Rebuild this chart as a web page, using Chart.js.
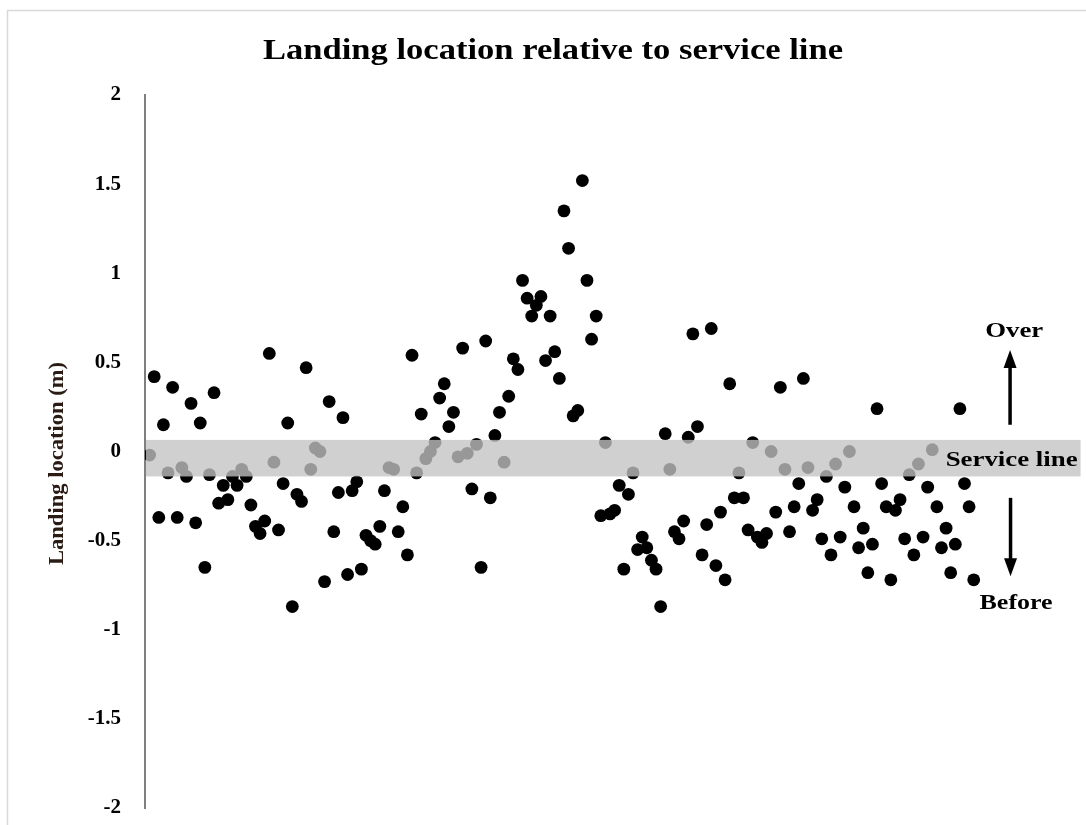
<!DOCTYPE html>
<html>
<head>
<meta charset="utf-8">
<title>Landing location relative to service line</title>
<script src="https://cdn.jsdelivr.net/npm/chart.js@4.4.1/dist/chart.umd.min.js"></script>
<style>
  html, body { margin: 0; padding: 0; background: #ffffff; }
  #wrap { width: 1086px; height: 825px; position: relative; }
</style>
</head>
<body>
<div id="wrap"><canvas id="chart" width="1086" height="825"></canvas></div>
<script>
// Landing location (m) of each serve, relative to the service line, in serve order
const landingLocation = [
  -0.02, 0.42, -0.37, 0.15, -0.12, 0.36, -0.37, -0.09, -0.14, 0.27,
  -0.40, 0.16, -0.65, -0.13, 0.33, -0.29, -0.19, -0.27, -0.14, -0.19,
  -0.10, -0.14, -0.30, -0.42, -0.46, -0.39, 0.55, -0.06, -0.44, -0.18,
  0.16, -0.87, -0.24, -0.28, 0.47, -0.10, 0.02, 0.00, -0.73, 0.28,
  -0.45, -0.23, 0.19, -0.69, -0.22, -0.17, -0.66, -0.47, -0.50, -0.52,
  -0.42, -0.22, -0.09, -0.10, -0.45, -0.31, -0.58, 0.54, -0.12, 0.21,
  -0.04, 0.00, 0.05, 0.30, 0.38, 0.14, 0.22, -0.03, 0.58, -0.01,
  -0.21, 0.04, -0.65, 0.62, -0.26, 0.09, 0.22, -0.06, 0.31, 0.52,
  0.46, 0.96, 0.86, 0.76, 0.82, 0.87, 0.51, 0.76, 0.56, 0.41,
  1.35, 1.14, 0.20, 0.23, 1.52, 0.96, 0.63, 0.76, -0.36, 0.05,
  -0.35, -0.33, -0.19, -0.66, -0.24, -0.12, -0.55, -0.48, -0.54, -0.61,
  -0.66, -0.87, 0.10, -0.10, -0.45, -0.49, -0.39, 0.08, 0.66, 0.14,
  -0.58, -0.41, 0.69, -0.64, -0.34, -0.72, 0.38, -0.26, -0.12, -0.26,
  -0.44, 0.05, -0.48, -0.51, -0.46, 0.00, -0.34, 0.36, -0.10, -0.45,
  -0.31, -0.18, 0.41, -0.09, -0.33, -0.27, -0.49, -0.14, -0.58, -0.07,
  -0.48, -0.20, 0.00, -0.31, -0.54, -0.43, -0.68, -0.52, 0.24, -0.18,
  -0.31, -0.72, -0.33, -0.27, -0.49, -0.13, -0.58, -0.07, -0.48, -0.20,
  0.01, -0.31, -0.54, -0.43, -0.68, -0.52, 0.24, -0.18, -0.31, -0.72
];

// Y axis tick values and their labels
const yTickValues = [-2, -1.5, -1, -0.5, 0, 0.5, 1, 1.5, 2];
const yTickLabels = ['-2', '-1.5', '-1', '-0.5', '0', '0.5', '1', '1.5', '2'];

// Service line zone (m)
const serviceZone = [-0.14, 0.065];

// Direction annotations: [serve position, value]
const overLabelAt = [188.8, 0.67];
const overArrow = [187.9, 0.15, 0.57];
const beforeLabelAt = [189.2, -0.855];
const beforeArrow = [188.0, -0.26, -0.70];
const serviceLabelAt = [173.9, -0.05];

const SERIF = "'Liberation Serif', 'Times New Roman', 'DejaVu Serif', serif";

const points = landingLocation.map((v, i) => ({ x: i + 1, y: v }));

// Draw bold serif text fitted to a given width
function drawFittedText(ctx, text, x, y, size, width, align, color, angle) {
  ctx.save();
  ctx.font = `bold ${size}px ${SERIF}`;
  ctx.textBaseline = 'middle';
  ctx.textAlign = 'left';
  const w = ctx.measureText(text).width;
  const sx = width / w;
  ctx.translate(x, y);
  if (angle) ctx.rotate(angle);
  ctx.scale(sx, 1);
  ctx.fillStyle = color || '#000';
  ctx.fillText(text, align === 'center' ? -w / 2 : 0, 0);
  ctx.restore();
}

function drawArrow(ctx, x, y0, y1) {
  const dir = y1 < y0 ? -1 : 1;
  ctx.save();
  ctx.strokeStyle = '#000';
  ctx.fillStyle = '#000';
  ctx.lineWidth = 3.5;
  ctx.beginPath();
  ctx.moveTo(x, y0);
  ctx.lineTo(x, y1 - dir * 14);
  ctx.stroke();
  ctx.beginPath();
  ctx.moveTo(x, y1);
  ctx.lineTo(x - 6.5, y1 - dir * 18);
  ctx.lineTo(x + 6.5, y1 - dir * 18);
  ctx.closePath();
  ctx.fill();
  ctx.restore();
}

const framePlugin = {
  id: 'frame',
  beforeDraw(chart) {
    const ctx = chart.ctx;
    ctx.save();
    ctx.fillStyle = '#ffffff';
    ctx.fillRect(0, 0, chart.width, chart.height);
    ctx.strokeStyle = '#d9d9d9';
    ctx.lineWidth = 1.5;
    ctx.strokeRect(7.5, 10.5, chart.width + 20, chart.height + 20);
    ctx.restore();
  }
};

const zonePlugin = {
  id: 'serviceZone',
  afterDatasetsDraw(chart) {
    const { ctx, chartArea, scales: { y } } = chart;
    const top = y.getPixelForValue(serviceZone[1]);
    const bottom = y.getPixelForValue(serviceZone[0]);
    ctx.save();
    ctx.fillStyle = 'rgba(195,195,195,0.78)';
    ctx.fillRect(chartArea.left + 1, top, chartArea.right - chartArea.left, bottom - top);
    ctx.restore();
  }
};

const labelsPlugin = {
  id: 'directionLabels',
  afterDraw(chart) {
    const { ctx, chartArea, scales: { x, y } } = chart;
    drawFittedText(ctx, 'Landing location relative to service line', 553, 51, 30, 580, 'center');
    drawFittedText(ctx, 'Landing location (m)', 58, (chartArea.top + chartArea.bottom) / 2 + 12, 21, 203, 'center', '#2a1c14', -Math.PI / 2);
    drawFittedText(ctx, 'Over', x.getPixelForValue(overLabelAt[0]), y.getPixelForValue(overLabelAt[1]), 21, 58, 'center');
    drawFittedText(ctx, 'Before', x.getPixelForValue(beforeLabelAt[0]), y.getPixelForValue(beforeLabelAt[1]), 21, 73, 'center');
    drawFittedText(ctx, 'Service line', x.getPixelForValue(serviceLabelAt[0]), y.getPixelForValue(serviceLabelAt[1]), 21, 132, 'left');
    drawArrow(ctx, x.getPixelForValue(overArrow[0]), y.getPixelForValue(overArrow[1]), y.getPixelForValue(overArrow[2]));
    drawArrow(ctx, x.getPixelForValue(beforeArrow[0]), y.getPixelForValue(beforeArrow[1]), y.getPixelForValue(beforeArrow[2]));
  }
};

new Chart(document.getElementById('chart'), {
  type: 'scatter',
  data: {
    datasets: [{
      label: 'Landing location',
      data: points,
      backgroundColor: '#000000',
      borderWidth: 0,
      pointRadius: 6.4,
      pointHoverRadius: 6.4
    }]
  },
  options: {
    responsive: false,
    animation: false,
    events: [],
    layout: { padding: { top: 95, bottom: 17, left: 10, right: 0 } },
    plugins: {
      legend: { display: false },
      title: { display: false },
      tooltip: { enabled: false }
    },
    scales: {
      x: {
        type: 'linear',
        display: false,
        min: 0,
        max: 203
      },
      y: {
        type: 'linear',
        min: -2,
        max: 2,
        afterBuildTicks(scale) {
          scale.ticks = yTickValues.map(v => ({ value: v }));
        },
        afterFit(scale) {
          scale.width = 135;
        },
        grid: { display: false, drawTicks: true, tickLength: 24 },
        border: { display: true, color: '#7f7f7f', width: 2 },
        ticks: {
          padding: 0,
          color: '#000',
          font: { family: SERIF, size: 21, weight: 'bold' },
          callback: (value) => {
            const i = yTickValues.indexOf(value);
            return i >= 0 ? yTickLabels[i] : '';
          }
        },
        title: { display: false }
      }
    }
  },
  plugins: [framePlugin, zonePlugin, labelsPlugin]
});
</script>
</body>
</html>
